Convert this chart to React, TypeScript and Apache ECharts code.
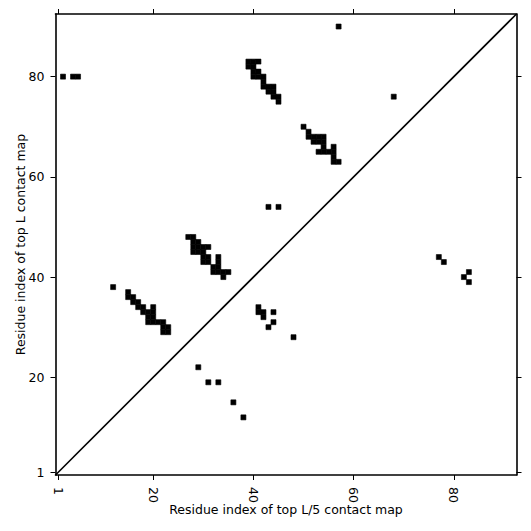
import React, { useEffect, useRef } from "react";
import * as echarts from "echarts";

// residue index range (1-based), cells centred on integers
const axisMin = 0.5;
const axisMax = 92.5;
const tickValues = [1, 20, 40, 60, 80];

// contacts above the diagonal: top L contact map  [i, j]
const topLContacts: number[][] = [
  [2, 80], [4, 80], [5, 80],
  [57, 90], [68, 76],
  // cluster near (39-45, 75-83)
  [39, 83], [40, 83], [41, 83],
  [39, 82], [40, 82],
  [40, 81], [41, 81],
  [40, 80], [41, 80], [42, 80],
  [42, 79],
  [42, 78], [43, 78], [44, 78],
  [43, 77], [44, 77],
  [44, 76], [45, 76],
  [45, 75],
  // cluster near (50-57, 63-70)
  [50, 70],
  [51, 69],
  [51, 68], [52, 68], [53, 68], [54, 68],
  [52, 67], [53, 67], [54, 67],
  [54, 66], [56, 66],
  [53, 65], [54, 65], [55, 65], [56, 65],
  [56, 64],
  [56, 63], [57, 63],
  // pair
  [43, 54], [45, 54],
  // cluster near (27-35, 40-48)
  [27, 48], [28, 48],
  [28, 47], [29, 47],
  [28, 46], [29, 46], [30, 46], [31, 46],
  [28, 45], [29, 45], [30, 45],
  [30, 44], [31, 44], [33, 44],
  [30, 43], [31, 43], [33, 43],
  [32, 42], [33, 42],
  [32, 41], [33, 41], [34, 41], [35, 41],
  [34, 40],
  // cluster near (12-23, 29-38)
  [12, 38],
  [15, 37],
  [15, 36], [16, 36],
  [16, 35], [17, 35],
  [17, 34], [18, 34], [20, 34],
  [18, 33], [19, 33], [20, 33],
  [19, 32], [20, 32],
  [19, 31], [20, 31], [21, 31], [22, 31],
  [22, 30], [23, 30],
  [22, 29], [23, 29],
];

// contacts below the diagonal: top L/5 contact map  [i, j]
const topL5Contacts: number[][] = [
  [41, 34], [41, 33], [42, 33], [42, 32], [44, 33], [44, 31], [43, 30],
  [48, 28],
  [29, 22], [31, 19], [33, 19], [36, 15], [38, 12],
  [77, 44], [78, 43], [83, 41], [82, 40], [83, 39],
];

const diagonal = [
  [axisMin, axisMin],
  [axisMax, axisMax],
];

const FONT = "DejaVu Sans";
const FS = 12.5;

export default function App() {
  const ref = useRef<HTMLDivElement>(null);
  useEffect(() => {
    if (!ref.current) return;
    const chart = echarts.init(ref.current, null, { renderer: "svg" });
    const cellRender = (_params: any, api: any) => {
      const x = api.value(0);
      const y = api.value(1);
      const p0 = api.coord([x - 0.5, y + 0.5]);
      const p1 = api.coord([x + 0.5, y - 0.5]);
      return {
        type: "rect",
        shape: { x: p0[0], y: p0[1], width: p1[0] - p0[0], height: p1[1] - p0[1] },
        style: { fill: "#000", stroke: "#000", lineWidth: 0.6 },
      };
    };
    const tickCommon = {
      show: true,
      inside: false,
      length: 5,
      customValues: tickValues,
      lineStyle: { color: "#000", width: 1 },
    };
    const lineCommon = { show: true, onZero: false, lineStyle: { color: "#000", width: 1.6 } };
    chart.setOption({
      animation: false,
      backgroundColor: "#fff",
      grid: {
        left: 55.5,
        right: 14.5,
        top: 14,
        bottom: 56,
        containLabel: false,
        outerBoundsMode: "none",
      },
      xAxis: [
        {
          type: "value",
          min: axisMin,
          max: axisMax,
          position: "bottom",
          splitLine: { show: false },
          axisLine: lineCommon,
          axisTick: tickCommon,
          axisLabel: {
            customValues: tickValues,
            rotate: -90,
            margin: 12,
            color: "#000",
            fontFamily: FONT,
            fontSize: FS,
          },
          name: "Residue index of top L/5 contact map",
          nameLocation: "middle",
          nameGap: 28,
          nameMoveOverlap: false,
          nameTextStyle: { color: "#000", fontFamily: FONT, fontSize: FS },
        },
        {
          type: "value",
          min: axisMin,
          max: axisMax,
          position: "top",
          splitLine: { show: false },
          axisLine: lineCommon,
          axisTick: tickCommon,
          axisLabel: { show: false },
        },
      ],
      yAxis: [
        {
          type: "value",
          min: axisMin,
          max: axisMax,
          position: "left",
          splitLine: { show: false },
          axisLine: lineCommon,
          axisTick: tickCommon,
          axisLabel: {
            customValues: tickValues,
            margin: 11,
            color: "#000",
            fontFamily: FONT,
            fontSize: FS,
          },
          name: "Residue index of top L contact map",
          nameLocation: "middle",
          nameGap: 28.5,
          nameMoveOverlap: false,
          nameTextStyle: { color: "#000", fontFamily: FONT, fontSize: FS },
        },
        {
          type: "value",
          min: axisMin,
          max: axisMax,
          position: "right",
          splitLine: { show: false },
          axisLine: lineCommon,
          axisTick: tickCommon,
          axisLabel: { show: false },
        },
      ],
      series: [
        {
          type: "custom",
          name: "top L",
          xAxisIndex: 0,
          yAxisIndex: 0,
          renderItem: cellRender,
          encode: { x: 0, y: 1 },
          data: topLContacts,
        },
        {
          type: "custom",
          name: "top L/5",
          xAxisIndex: 0,
          yAxisIndex: 0,
          renderItem: cellRender,
          encode: { x: 0, y: 1 },
          data: topL5Contacts,
        },
        {
          type: "line",
          xAxisIndex: 0,
          yAxisIndex: 0,
          data: diagonal,
          symbol: "none",
          lineStyle: { color: "#000", width: 1.6 },
          silent: true,
        },
      ],
    });
    return () => chart.dispose();
  }, []);
  return (
    <div
      ref={ref}
      style={{ position: "fixed", left: 0, top: 0, width: 531, height: 531, background: "#fff" }}
    />
  );
}
